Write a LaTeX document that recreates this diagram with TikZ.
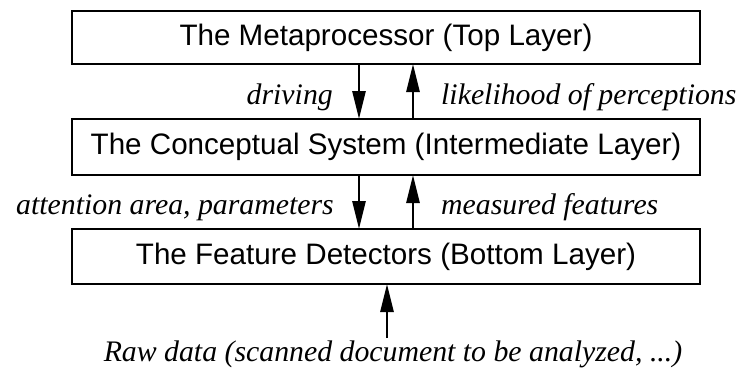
\documentclass[tikz,border=0pt]{standalone}
\usepackage{fontspec}
\setmainfont{Liberation Serif}
\newfontfamily\layerfont{Liberation Sans}
\usetikzlibrary{arrows.meta}

\tikzset{
  layer/.style={draw, line width=2.7bp, minimum width=628bp, inner sep=0pt, outer sep=0pt,
    font=\layerfont\fontsize{29.6bp}{32bp}\selectfont},
  flow/.style={line width=2.7bp, -{Triangle[length=28bp,width=13bp]}},
  lbl/.style={inner sep=0pt, font=\itshape\fontsize{29.8bp}{32bp}\selectfont}
}

\begin{document}
\begin{tikzpicture}[x=1bp,y=-1bp]
  \useasboundingbox (0,0) rectangle (741,369);

  % the three layers
  \node[layer, minimum height=53bp] (top) at (386,37.5) {The Metaprocessor (Top Layer)};
  \node[layer, minimum height=56bp] (mid) at (386,147) {The Conceptual System (Intermediate Layer)};
  \node[layer, minimum height=55bp] (bot) at (386,256.5) {The Feature Detectors (Bottom Layer)};

  % columns of the downward and upward connectors
  \coordinate (dn) at (359,0);
  \coordinate (up) at (413,0);
  \coordinate (raw) at (387,338);

  \draw[flow] (top.south -| dn) -- (mid.north -| dn);
  \draw[flow] (mid.north -| up) -- (top.south -| up);
  \draw[flow] (mid.south -| dn) -- (bot.north -| dn);
  \draw[flow] (bot.north -| up) -- (mid.south -| up);
  \draw[flow] (raw) -- (bot.south -| raw);

  % connector labels
  \node[lbl, anchor=base east] (l1) at (333,104) {driving};
  \node[lbl, anchor=base west] (l2) at (441,104) {likelihood of perceptions};
  \node[lbl, anchor=base east] (l3) at (334,214) {attention area, parameters};
  \node[lbl, anchor=base west] (l4) at (441,214) {measured features};
  \node[lbl, anchor=base] (l5) at (393,361) {Raw data (scanned document to be analyzed, ...)};
\end{tikzpicture}
\end{document}
